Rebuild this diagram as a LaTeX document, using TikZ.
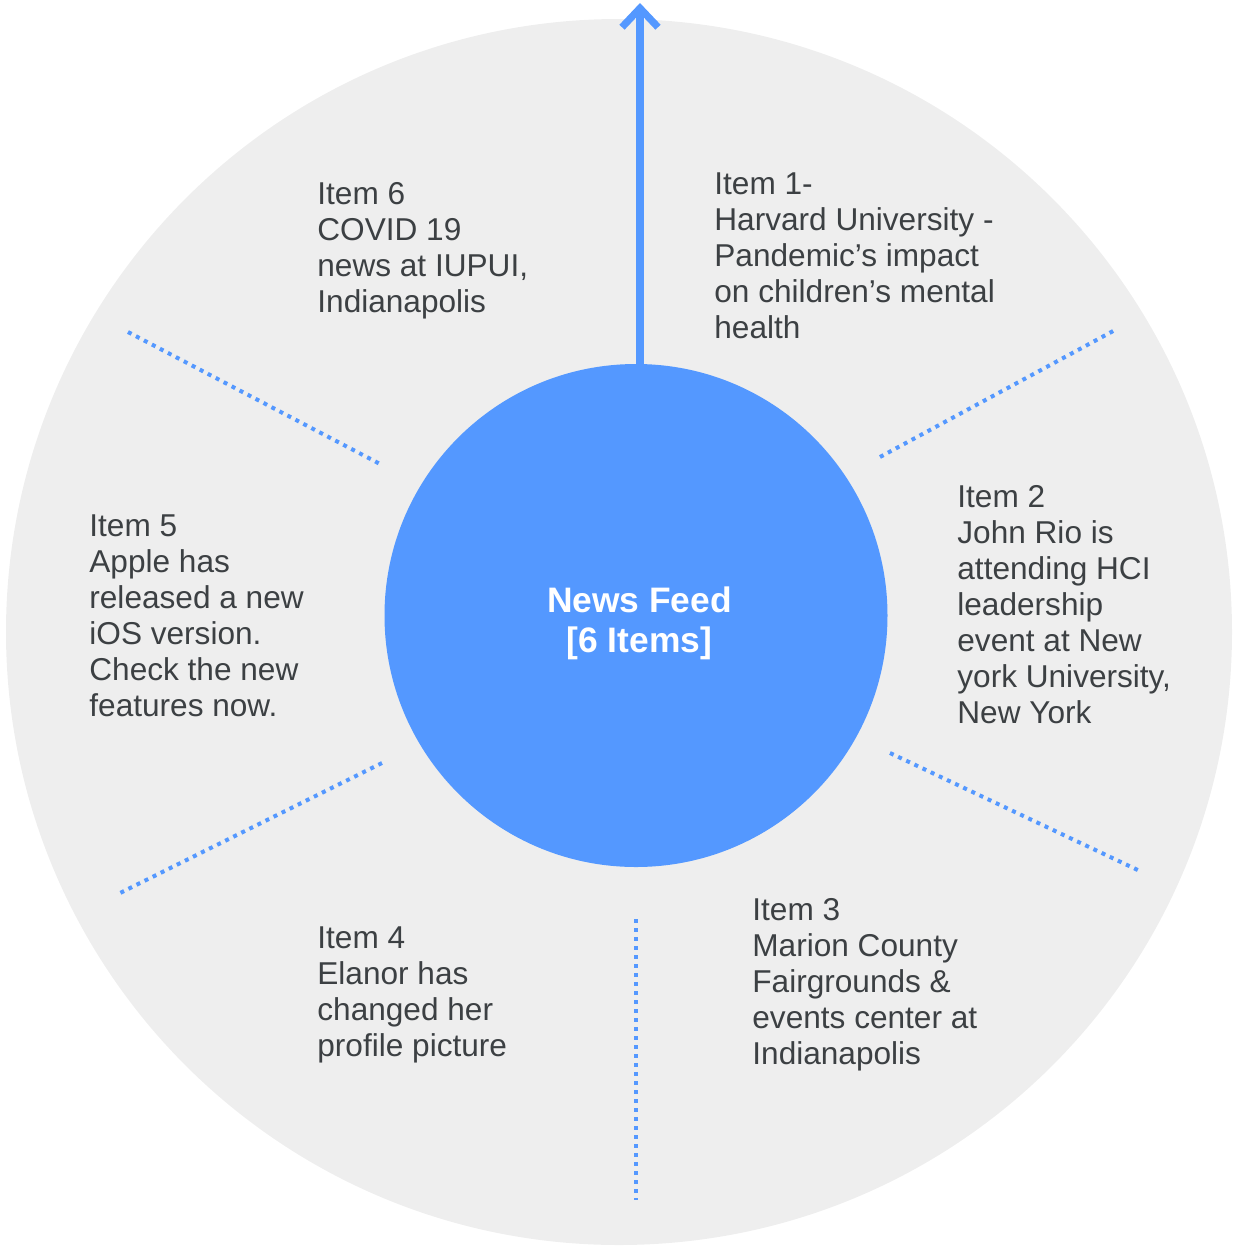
\documentclass[tikz,border=0pt]{standalone}
\usepackage{fontspec}
\setmainfont{Liberation Sans}
\usepackage{tikz}
\usetikzlibrary{arrows.meta,positioning}
\definecolor{feedblue}{HTML}{5498FF}
\definecolor{ringgray}{HTML}{EEEEEE}
\definecolor{inkgray}{HTML}{3C4043}
\tikzset{
  ring/.style={circle, fill=ringgray, inner sep=0pt, minimum size=613pt},
  hub/.style={circle, fill=feedblue, inner sep=0pt, minimum size=251.5pt},
  hubtext/.style={align=center, inner sep=0pt, text=white, font=\bfseries\fontsize{17.7}{20}\selectfont},
  itemtext/.style={anchor=base west, align=left, inner sep=0pt, text=inkgray, font=\fontsize{15.8}{18}\selectfont},
  spoke/.style={feedblue, line width=2pt, dash pattern=on 2pt off 2.5pt},
  feed/.style={-{Straight Barb[length=9.5pt, width=18pt]}, feedblue, line width=3.6pt}
}

\begin{document}
\begin{tikzpicture}[x=0.5pt, y=-0.5pt]
  \useasboundingbox (0,0) rectangle (1237,1249);
  \node[ring] (ring) at (619,632) {};
  \node[hub] (hub) at (636,615.5) {};
  \node[hubtext] (feedLabel) at (639.5,623) {News Feed\\{[6 Items]}};

  % arrow out of the feed
  \coordinate (top) at (640,3);
  \draw[feed] (hub.north -| top) -- (top);

  % dotted separators
  \coordinate (sepNWa) at (128,332);   \coordinate (sepNWb) at (382,465);
  \coordinate (sepNEa) at (880,457);   \coordinate (sepNEb) at (1115,330);
  \coordinate (sepSEa) at (890,753);   \coordinate (sepSEb) at (1142,872);
  \coordinate (sepSWa) at (382,763);   \coordinate (sepSWb) at (120,893);
  \coordinate (sepSa) at (636,919);    \coordinate (sepSb) at (636,1200);
  \draw[spoke] (sepNWa) -- (sepNWb);
  \draw[spoke] (sepNEa) -- (sepNEb);
  \draw[spoke] (sepSEa) -- (sepSEb);
  \draw[spoke] (sepSWa) -- (sepSWb);
  \draw[spoke] (sepSa) -- (sepSb);

  % items (placed at the baseline of their last line)
  \node[itemtext] (itemOne) at (714,338) {Item 1-\\Harvard University -\\Pandemic’s impact\\on children’s mental\\health};
  \node[itemtext] (itemTwo) at (957,723) {Item 2\\John Rio is\\attending HCI\\leadership\\event at New\\york University,\\New York};
  \node[itemtext] (itemThree) at (752,1064) {Item 3\\Marion County\\Fairgrounds \&\\events center at\\Indianapolis};
  \node[itemtext] (itemFour) at (317,1056) {Item 4\\Elanor has\\changed her\\profile picture};
  \node[itemtext] (itemFive) at (89,716) {Item 5\\Apple has\\released a new\\iOS version.\\Check the new\\features now.};
  \node[itemtext] (itemSix) at (317,312) {Item 6\\COVID 19\\news at IUPUI,\\Indianapolis};
\end{tikzpicture}
\end{document}
